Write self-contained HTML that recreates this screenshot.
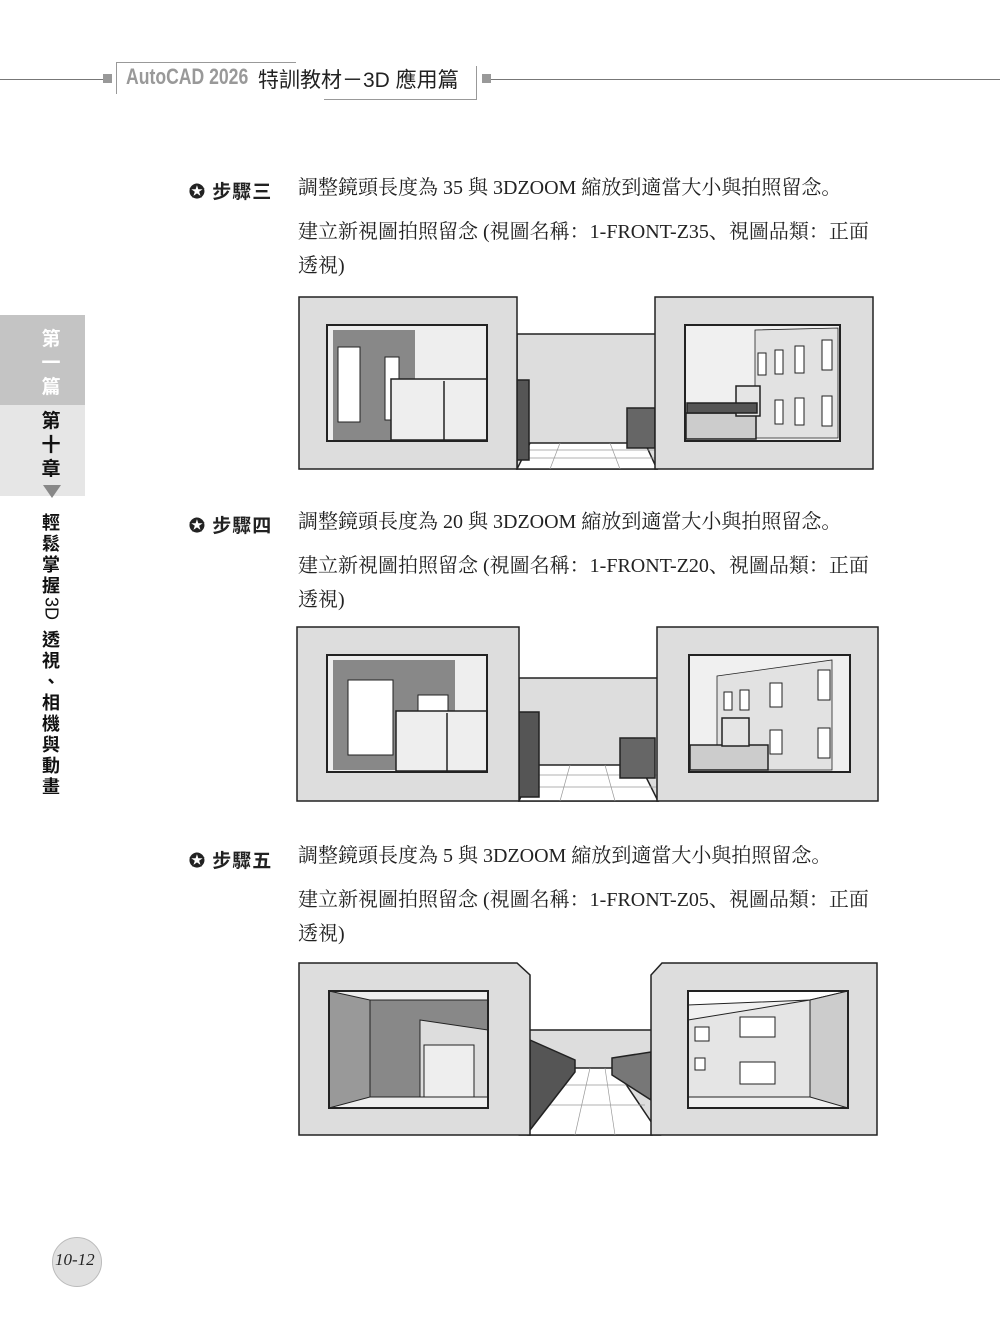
<!DOCTYPE html>
<html><head><meta charset="utf-8"><style>
body{margin:0;background:#fff;}
#p{position:relative;width:1000px;height:1341px;overflow:hidden;font-family:"Liberation Serif","Noto Serif CJK SC","Noto Sans CJK TC",serif;color:#222;}
.a{position:absolute;}
.step{font-family:"Liberation Sans","Noto Sans CJK TC",sans-serif;font-weight:bold;font-size:19px;letter-spacing:1px;}
.t{font-size:20px;line-height:34px;white-space:nowrap;}
.side{font-family:"Liberation Sans","Noto Sans CJK TC",sans-serif;font-weight:bold;font-size:18px;width:22px;line-height:21px;text-align:center;}
</style></head><body><div id="p">
<!-- header -->
<div class="a" style="left:0;top:79px;width:103px;height:1px;background:#777"></div>
<div class="a" style="left:103px;top:74px;width:9px;height:9px;background:#999"></div>
<div class="a" style="left:116px;top:62px;width:180px;height:1px;background:#999"></div>
<div class="a" style="left:116px;top:62px;width:1px;height:32px;background:#999"></div>
<div class="a" style="left:324px;top:99px;width:152px;height:1px;background:#999"></div>
<div class="a" style="left:476px;top:66px;width:1px;height:34px;background:#999"></div>
<div class="a" style="left:482px;top:74px;width:9px;height:9px;background:#999"></div>
<div class="a" style="left:491px;top:79px;width:509px;height:1px;background:#777"></div>
<div class="a" style="left:126px;top:64px;font-family:'Liberation Sans',sans-serif;font-weight:bold;font-size:22px;color:#999;transform:scaleX(.8);transform-origin:left;">AutoCAD 2026</div>
<div class="a" style="left:258px;top:64px;font-family:'Liberation Sans','Noto Sans CJK TC',sans-serif;font-size:21px;color:#222">特訓教材－3D 應用篇</div>
<!-- sidebar -->
<div class="a" style="left:0;top:315px;width:85px;height:90px;background:#c4c4c4"></div>
<div class="a" style="left:0;top:405px;width:85px;height:91px;background:#e6e6e6"></div>
<div class="a side" style="left:40px;top:328px;color:#fff;line-height:24px;font-size:19px">第<br>一<br>篇</div>
<div class="a side" style="left:40px;top:410px;color:#111;line-height:24px;font-size:19px">第<br>十<br>章</div>
<div class="a" style="left:43px;top:485px;border-left:9px solid transparent;border-right:9px solid transparent;border-top:13px solid #888"></div>
<div class="a side" style="left:40px;top:513px;color:#111">輕<br>鬆<br>掌<br>握</div>
<div class="a" style="left:31px;top:598px;width:40px;text-align:center;font-family:'Liberation Sans',sans-serif;font-size:18px;line-height:21px;transform:rotate(90deg);color:#111">3D</div>
<div class="a side" style="left:40px;top:630px;color:#111">透<br>視<br>、<br>相<br>機<br>與<br>動<br>畫</div>

<!-- steps -->
<div class="a step" style="left:189px;top:177px">✪ 步驟三</div>
<div class="a t" style="left:298px;top:171px">調整鏡頭長度為 35 與 3DZOOM 縮放到適當大小與拍照留念。</div>
<div class="a t" style="left:298px;top:215px">建立新視圖拍照留念 (視圖名稱：1-FRONT-Z35、視圖品類：正面<br>透視)</div>

<div class="a step" style="left:189px;top:511px">✪ 步驟四</div>
<div class="a t" style="left:298px;top:505px">調整鏡頭長度為 20 與 3DZOOM 縮放到適當大小與拍照留念。</div>
<div class="a t" style="left:298px;top:549px">建立新視圖拍照留念 (視圖名稱：1-FRONT-Z20、視圖品類：正面<br>透視)</div>

<div class="a step" style="left:189px;top:846px">✪ 步驟五</div>
<div class="a t" style="left:298px;top:839px">調整鏡頭長度為 5 與 3DZOOM 縮放到適當大小與拍照留念。</div>
<div class="a t" style="left:298px;top:883px">建立新視圖拍照留念 (視圖名稱：1-FRONT-Z05、視圖品類：正面<br>透視)</div>

<svg class="a" style="left:0;top:0" width="1000" height="1341" stroke="#222" stroke-width="1.5">
<!-- image 1 -->
<rect x="517" y="334" width="140" height="135" fill="#ddd"/>
<polygon points="530,443 645,443 657,469 517,469" fill="#fff"/>
<g stroke="#999" stroke-width="0.7"><line x1="517" y1="450" x2="657" y2="450"/><line x1="517" y1="458" x2="657" y2="458"/><line x1="560" y1="443" x2="550" y2="469"/><line x1="610" y1="443" x2="620" y2="469"/></g>
<rect x="517" y="380" width="12" height="80" fill="#555"/>
<rect x="627" y="408" width="28" height="40" fill="#666"/>
<rect x="299" y="297" width="218" height="172" fill="#ddd"/>
<rect x="327" y="325" width="160" height="116" fill="#eee"/>
<rect x="333" y="330" width="82" height="110" fill="#888" stroke="none"/>
<rect x="338" y="347" width="22" height="75" fill="#fff" stroke-width="1"/>
<rect x="385" y="357" width="14" height="63" fill="#fff" stroke-width="1"/>
<rect x="391" y="379" width="96" height="61" fill="#eee"/>
<line x1="444" y1="381" x2="444" y2="440"/>
<rect x="327" y="325" width="160" height="116" fill="none" stroke-width="2"/>
<rect x="655" y="297" width="218" height="172" fill="#ddd"/>
<rect x="685" y="325" width="155" height="116" fill="#f0f0f0"/>
<polygon points="755,330 838,328 838,438 755,438" fill="#e2e2e2" stroke-width="0.8"/>
<g fill="#fff" stroke-width="1"><rect x="758" y="353" width="8" height="22"/><rect x="775" y="350" width="8" height="24"/><rect x="795" y="346" width="9" height="27"/><rect x="822" y="340" width="10" height="30"/><rect x="775" y="400" width="8" height="24"/><rect x="795" y="398" width="9" height="27"/><rect x="822" y="396" width="10" height="30"/></g>
<rect x="686" y="413" width="70" height="26" fill="#ccc"/>
<rect x="736" y="386" width="24" height="30" fill="#e5e5e5"/>
<rect x="687" y="403" width="70" height="10" fill="#555"/>
<rect x="685" y="325" width="155" height="116" fill="none" stroke-width="2"/>
<!-- image 2 -->
<rect x="519" y="678" width="139" height="123" fill="#ddd"/>
<polygon points="535,765 640,765 658,801 519,801" fill="#fff"/>
<g stroke="#999" stroke-width="0.7"><line x1="519" y1="775" x2="658" y2="775"/><line x1="519" y1="787" x2="658" y2="787"/><line x1="570" y1="765" x2="560" y2="801"/><line x1="605" y1="765" x2="615" y2="801"/></g>
<rect x="519" y="712" width="20" height="85" fill="#555"/>
<rect x="620" y="738" width="35" height="40" fill="#666"/>
<rect x="297" y="627" width="222" height="174" fill="#ddd"/>
<rect x="327" y="655" width="160" height="117" fill="#eee"/>
<rect x="333" y="660" width="122" height="110" fill="#888" stroke="none"/>
<rect x="348" y="680" width="45" height="75" fill="#fff" stroke-width="1"/>
<rect x="418" y="695" width="30" height="20" fill="#fff" stroke-width="1"/>
<rect x="396" y="711" width="91" height="60" fill="#eee"/>
<line x1="447" y1="713" x2="447" y2="771"/>
<rect x="327" y="655" width="160" height="117" fill="none" stroke-width="2"/>
<rect x="657" y="627" width="221" height="174" fill="#ddd"/>
<rect x="689" y="655" width="161" height="117" fill="#f0f0f0"/>
<polygon points="717,676 832,660 832,770 717,770" fill="#e2e2e2" stroke-width="0.8"/>
<g fill="#fff" stroke-width="1"><rect x="724" y="692" width="8" height="18"/><rect x="740" y="690" width="9" height="20"/><rect x="770" y="683" width="12" height="24"/><rect x="818" y="670" width="12" height="30"/><rect x="770" y="730" width="12" height="24"/><rect x="818" y="728" width="12" height="30"/></g>
<rect x="690" y="745" width="78" height="25" fill="#ccc"/>
<rect x="722" y="718" width="27" height="28" fill="#e5e5e5"/>
<rect x="689" y="655" width="161" height="117" fill="none" stroke-width="2"/>
<!-- image 3 -->
<rect x="528" y="1030" width="124" height="105" fill="#ddd"/>
<polygon points="575,1068 615,1068 660,1135 520,1135" fill="#fff"/>
<g stroke="#999" stroke-width="0.7"><line x1="555" y1="1085" x2="630" y2="1085"/><line x1="540" y1="1105" x2="645" y2="1105"/><line x1="590" y1="1068" x2="575" y2="1135"/><line x1="605" y1="1068" x2="615" y2="1135"/></g>
<polygon points="530,1040 575,1060 575,1072 530,1130" fill="#555"/>
<polygon points="612,1058 651,1052 651,1100 612,1075" fill="#777"/>
<polygon points="299,963 517,963 530,975 530,1135 299,1135" fill="#ddd"/>
<rect x="329" y="991" width="159" height="117" fill="#eee"/>
<polygon points="329,991 370,1000 370,1097 329,1108" fill="#999" stroke-width="1"/>
<rect x="370" y="1000" width="118" height="97" fill="#888" stroke-width="1"/>
<polygon points="420,1020 488,1030 488,1097 420,1097" fill="#ddd" stroke-width="1"/>
<rect x="424" y="1045" width="50" height="52" fill="#eee" stroke-width="1"/>
<rect x="329" y="991" width="159" height="117" fill="none" stroke-width="2"/>
<polygon points="662,963 877,963 877,1135 651,1135 651,975" fill="#ddd"/>
<rect x="688" y="991" width="160" height="117" fill="#f0f0f0"/>
<polygon points="688,991 848,991 810,1000 688,1005" fill="#fff" stroke-width="1"/>
<polygon points="810,1000 848,991 848,1108 810,1097" fill="#ccc" stroke-width="1"/>
<polygon points="688,1020 810,1000 810,1097 688,1097" fill="#e5e5e5" stroke-width="1"/>
<g fill="#fff" stroke-width="1"><rect x="740" y="1017" width="35" height="20"/><rect x="740" y="1062" width="35" height="22"/><rect x="695" y="1027" width="14" height="14"/><rect x="695" y="1058" width="10" height="12"/></g>
<rect x="688" y="991" width="160" height="117" fill="none" stroke-width="2"/>
</svg>

<!-- page number -->
<div class="a" style="left:52px;top:1237px;width:48px;height:48px;border-radius:50%;background:#e0e0e0;border:1px solid #bbb"></div>
<div class="a" style="left:55px;top:1250px;font-family:'Liberation Serif',serif;font-style:italic;font-size:17px;color:#222">10-12</div>
</div></body></html>
